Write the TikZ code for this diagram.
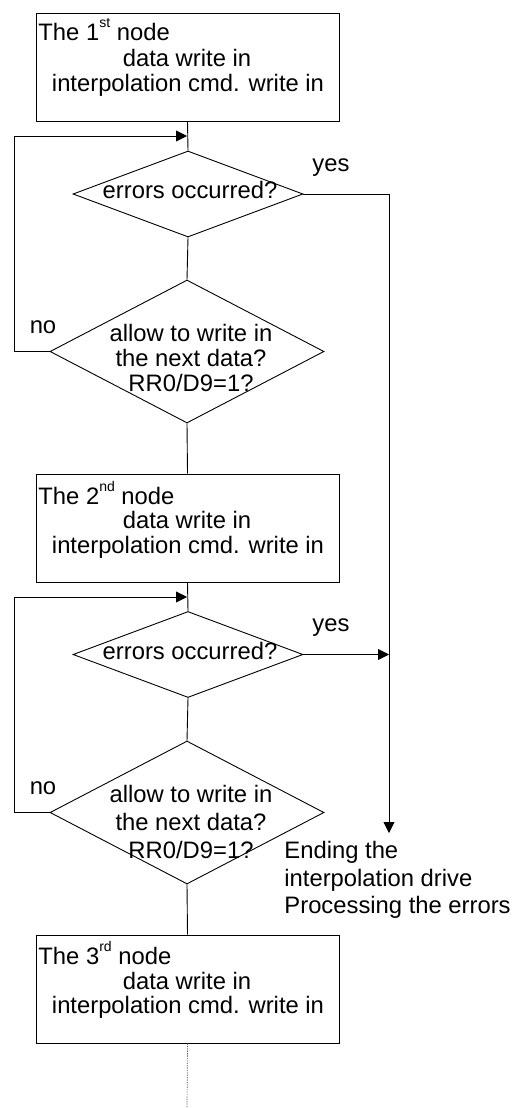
\documentclass[tikz,border=0pt]{standalone}
\usepackage{fontspec}
\setmainfont{Liberation Sans}
\usetikzlibrary{shapes.geometric,arrows.meta}
\newcommand{\mysup}[1]{\raisebox{0.55em}{\fontsize{14}{14}\selectfont #1}}
\begin{document}
\begin{tikzpicture}[x=1pt,y=-1pt,
  font=\fontsize{23.8}{27}\selectfont,
  line width=0.9pt,
  stepbox/.style={draw,rectangle,minimum width=303pt,minimum height=108pt,inner sep=0pt},
  decA/.style={draw,diamond,inner sep=0pt,minimum width=230pt,minimum height=86pt},
  decB/.style={draw,diamond,inner sep=0pt,minimum width=274pt,minimum height=143pt},
  txt/.style={inner sep=0pt,anchor=center},
  arr/.style={-{Triangle[length=11pt,width=11pt]}}]
\useasboundingbox (0,0) rectangle (514,1108);

% boxes
\node[stepbox] (b1) at (187.5,67) {};
\node[stepbox] (b2) at (187.5,528) {};
\node[stepbox] (b3) at (187.5,989) {};

\node[txt,anchor=west] (b1a) at (38,30) {The 1\mysup{st} node};
\node[txt] (b1b) at (187,58) {data write in};
\node[txt] (b1c) at (188,85) {interpolation cmd. write in};

\node[txt,anchor=west] (b2a) at (38,493) {The 2\mysup{nd} node};
\node[txt] (b2b) at (187,520) {data write in};
\node[txt] (b2c) at (188,547) {interpolation cmd. write in};

\node[txt,anchor=west] (b3a) at (38,953) {The 3\mysup{rd} node};
\node[txt] (b3b) at (187,981) {data write in};
\node[txt] (b3c) at (188,1007) {interpolation cmd. write in};

% decisions
\node[decA] (d1) at (188,194) {};
\node[txt] (d1t) at (190,190) {errors occurred?};
\node[decB] (d2) at (187,351.5) {};
\node[txt,align=center,font=\fontsize{23.8}{25}\selectfont] (d2t) at (191,358) {allow to write in\\the next data?\\RR0/D9=1?};
\node[decA] (d3) at (188,654.5) {};
\node[txt] (d3t) at (190,651) {errors occurred?};
\node[decB] (d4) at (187,812.5) {};
\node[txt,align=center,font=\fontsize{23.8}{28}\selectfont] (d4t) at (191,822) {allow to write in\\the next data?\\RR0/D9=1?};

% labels
\node[txt] (y1) at (331,168) {yes};
\node[txt] (y2) at (331,628) {yes};
\node[txt] (n1) at (43,327) {no};
\node[txt] (n2) at (43,788) {no};
\node[txt,anchor=west,align=left,font=\fontsize{23.8}{27.5}\selectfont] (endt) at (284,880) {Ending the\\interpolation drive\\Processing the errors};

% coordinates
\coordinate (m1) at (187,136);
\coordinate (m2) at (187,597);
\coordinate (c1) at (389,194);
\coordinate (j2) at (389,654.5);
\coordinate (e1) at (389,833);
\coordinate (dn) at (187,1108);

% connectors
\draw (b1.south) -- (d1.north);
\draw (d1.south) -- (d2.north);
\draw (d2.south) -- (b2.north);
\draw (b2.south) -- (d3.north);
\draw (d3.south) -- (d4.north);
\draw (d4.south) -- (b3.north);
\draw[arr] (d2.west) -- (14,351.5) |- (m1);
\draw[arr] (d4.west) -- (14,812.5) |- (m2);
\draw[arr] (d1.east) -- (c1) -- (e1);
\draw[arr] (d3.east) -- (j2);
\draw[dash pattern=on 1.2pt off 1.2pt,line width=0.7pt,black!70] (b3.south) -- (dn);
\end{tikzpicture}
\end{document}
